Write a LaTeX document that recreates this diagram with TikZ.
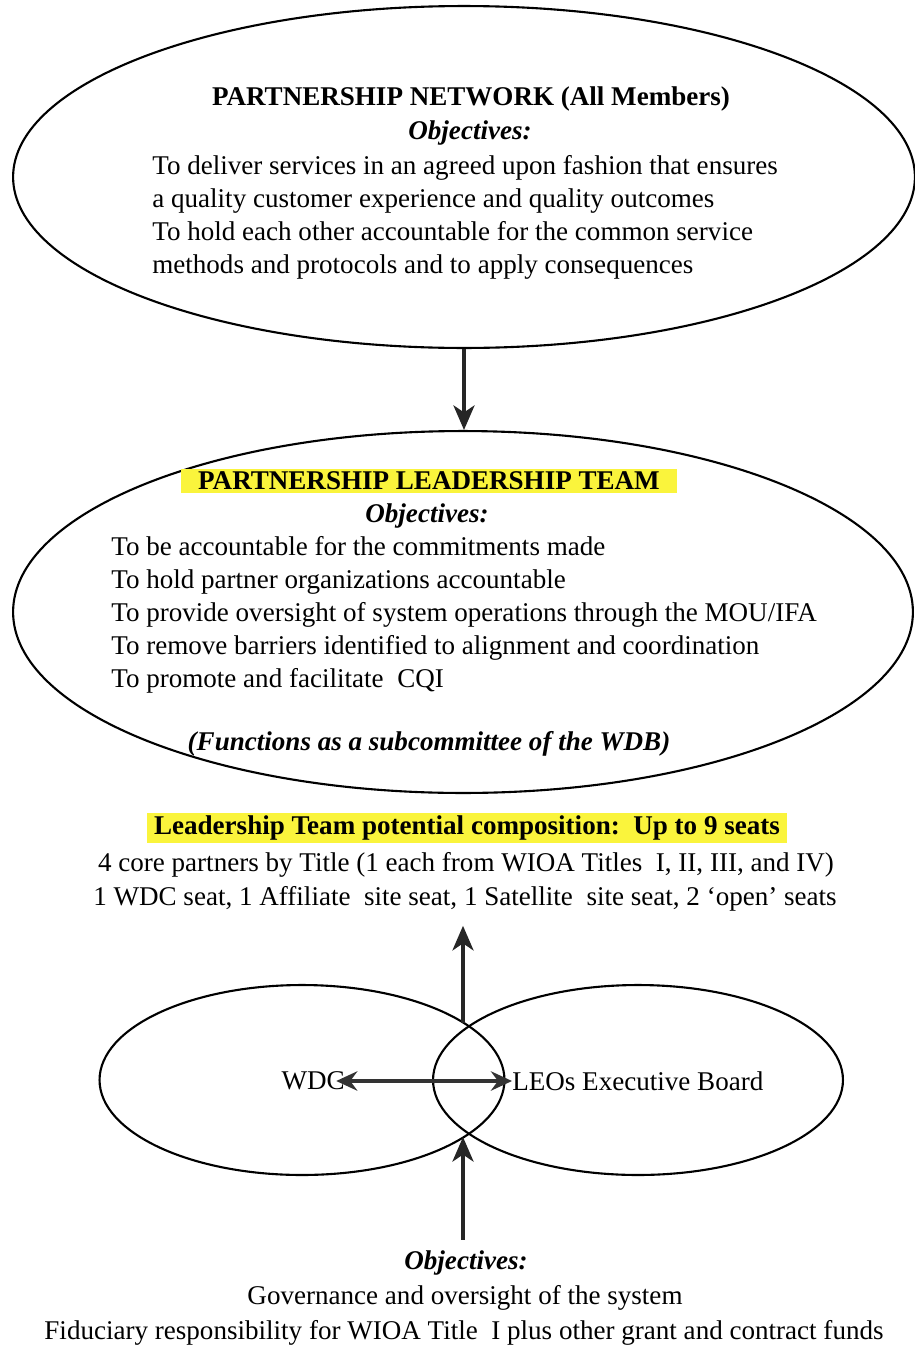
\documentclass[tikz,border=0pt]{standalone}
\usepackage{fontspec}
\setmainfont{Liberation Serif}
\usetikzlibrary{shapes.geometric,arrows.meta,positioning}
\definecolor{hiyellow}{RGB}{250,244,60}
\tikzset{
  blob/.style={draw, ellipse, line width=1.2pt, inner sep=0pt},
  txt/.style={inner sep=0pt, font=\fontsize{15.4}{18.8}\selectfont},
  head/.style={inner sep=0pt, font=\fontsize{15.4}{18.8}\selectfont\bfseries},
  obj/.style={inner sep=0pt, font=\fontsize{15.4}{18.8}\selectfont\bfseries\itshape},
  hilite/.style={fill=hiyellow, inner ysep=1.5pt},
  flow/.style={line width=2pt, draw=black!85, -{Stealth[length=14pt,width=12pt,inset=4pt]}},
  twoway/.style={line width=2.4pt, draw=black!80, {Stealth[length=12pt,width=11pt,inset=4pt]}-{Stealth[length=12pt,width=11pt,inset=4pt]}},
}
\begin{document}
\begin{tikzpicture}[x=0.02cm,y=-0.02cm]
\useasboundingbox (0,0) rectangle (915,1349);
% network ellipse
\node[blob, minimum width=18.04cm, minimum height=6.84cm] (network) at (464,177) {};
\node[head] (nethead) at (471,99) {PARTNERSHIP NETWORK (All Members)};
\node[obj] (netobj) at (470,133) {Objectives:};
\node[txt, align=left, anchor=west] (netlist) at (152,217) {To deliver services in an agreed upon fashion that ensures\\
a quality customer experience and quality outcomes\\
To hold each other accountable for the common service\\
methods and protocols and to apply consequences};
% leadership ellipse
\node[blob, minimum width=18.0cm, minimum height=7.24cm] (leaders) at (463,612) {};
\node[head, hilite, inner xsep=10pt] (leadhead) at (429,481) {PARTNERSHIP LEADERSHIP TEAM};
\node[obj] (leadobj) at (427,516) {Objectives:};
\node[txt, align=left, anchor=west] (leadlist) at (111,615) {To be accountable for the commitments made\\
To hold partner organizations accountable\\
To provide oversight of system operations through the MOU/IFA\\
To remove barriers identified to alignment and coordination\\
To promote and facilitate\ \ CQI};
\node[obj] (leadnote) at (429,744) {(Functions as a subcommittee of the WDB)};
\draw[flow] (network.south) -- (network.south |- leaders.north);
% composition
\node[head, hilite, inner xsep=4pt] (comphead) at (467,828) {Leadership Team potential composition:\ \ Up to 9 seats};
\node[txt] (compline1) at (466,865) {4 core partners by Title (1 each from WIOA Titles\ \ I, II, III, and IV)};
\node[txt] (compline2) at (465,899) {1 WDC seat, 1 Affiliate\ \ site seat, 1 Satellite\ \ site seat, 2 `open' seats};
% WDC and LEOs
\node[blob, minimum width=8.1cm, minimum height=3.8cm] (wdcring) at (302,1080) {};
\node[blob, minimum width=8.2cm, minimum height=3.8cm] (leoring) at (638,1080) {};
\coordinate (lenstop) at (463,1023);
\coordinate (lensbot) at (463,1137);
\node[txt, anchor=east] (wdc) at (345,1081) {WDC};
\node[txt, anchor=west] (leos) at (512,1081) {LEOs Executive Board};
\draw[twoway, shorten <=-5pt] (wdc.east) -- (leos.west);
\draw[flow, shorten >=8pt] (lenstop) -- (compline2.south -| lenstop);
% board objectives
\node[obj] (boardobj) at (466,1263) {Objectives:};
\node[txt] (boardline1) at (465,1298) {Governance and oversight of the system};
\node[txt] (boardline2) at (464,1333) {Fiduciary responsibility for WIOA Title\ \ I plus other grant and contract funds};
\draw[flow, shorten <=6pt] (boardobj.north -| lensbot) -- (lensbot);
\end{tikzpicture}
\end{document}
